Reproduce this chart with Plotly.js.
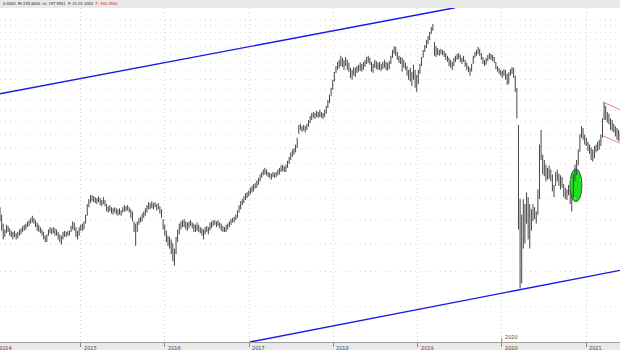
<!DOCTYPE html>
<html>
<head>
<meta charset="utf-8">
<script src="https://cdn.plot.ly/plotly-3.0.1.min.js"></script>
<style>
html,body{margin:0;padding:0;background:#e9e9e9;}
#chart{width:620px;height:350px;}
</style>
</head>
<body>
<div id="chart"></div>
<script>
// Weekly bars starting week
const firstWeek = '2014-01-17';
// Weekly lows
const weekLow = [
138,130,123,125,128,129,126,125,123,125,
123,124,126,127,129,130,131,133,134,136,
137,136,133,130,129,128,126,123,121,121,
126,128,127,128,126,126,123,121,119,123,
125,125,126,126,129,131,130,125,123,126,
130,130,131,136,143,151,155,157,156,155,
154,156,153,152,154,152,147,146,147,145,
144,146,144,143,144,143,146,147,147,148,
146,141,138,129,118,129,135,137,138,141,
143,146,149,149,150,149,151,148,149,145,
141,131,126,121,118,116,112,107,104,112,
121,127,131,133,133,131,130,132,134,132,
129,129,130,129,128,126,123,127,129,127,
130,132,134,135,133,134,132,130,129,129,
129,131,133,135,137,137,139,141,146,149,
153,155,158,160,162,164,166,167,170,171,
174,178,182,185,186,185,183,182,180,183,
182,183,185,186,189,190,189,189,194,199,
204,208,211,214,220,241,247,244,246,243,
247,252,258,263,267,265,268,267,268,267,
265,268,274,284,293,307,319,336,355,362,
366,371,369,362,371,362,358,344,340,349,
346,355,358,360,358,362,369,376,379,374,
358,355,367,364,362,362,360,364,367,362,
360,364,376,391,401,396,386,379,376,358,
367,362,349,340,336,327,340,323,315,331,
353,371,391,406,416,427,438,455,464,396,
393,398,396,401,398,393,386,381,371,367,
362,371,381,386,388,381,376,381,369,362,
357,349,358,376,391,396,401,396,386,376,
371,374,383,388,386,383,379,364,358,353,
349,344,349,340,329,331,349,353,344,315,
266,131,90,93,116,120,136,123,116,130,
138,140,136,144,159,204,186,184,178,180,
181,178,167,161,173,178,173,169,171,161,
159,158,163,154,147,161,178,185,197,215,
235,232,225,223,216,212,204,202,206,214,
216,218,223,235,263,263,259,256,247,245,
243,237,232,230,230
];
// Weekly highs
const weekHigh = [
151,144,136,131,135,134,132,130,129,130,
128,129,131,132,134,135,136,138,139,141,
143,141,139,137,135,133,131,129,126,127,
131,133,132,133,132,131,129,127,126,129,
130,129,130,130,134,138,137,133,130,133,
135,136,138,144,154,159,163,163,162,161,
160,162,160,158,161,158,154,152,153,151,
150,151,150,149,150,148,151,153,152,153,
151,149,147,138,136,138,141,142,145,147,
150,153,156,155,157,155,156,154,155,152,
149,140,135,130,126,125,123,120,116,125,
131,136,138,139,140,138,137,138,139,137,
136,135,137,135,133,132,131,133,134,133,
137,138,139,139,138,139,137,136,134,133,
135,136,138,140,141,142,144,148,153,157,
159,162,165,166,168,171,173,175,176,179,
182,186,189,192,194,192,189,188,187,189,
188,189,192,194,197,198,196,198,203,208,
214,218,220,225,235,255,257,253,255,253,
257,263,270,275,277,275,279,277,281,277,
275,281,288,299,309,323,340,357,371,381,
386,396,391,386,393,386,379,367,362,369,
367,371,374,379,376,381,386,393,396,391,
381,376,386,383,379,381,376,381,386,381,
379,383,396,411,421,419,406,396,393,391,
386,379,371,362,367,357,374,362,351,362,
376,393,411,424,438,449,461,476,485,432,
421,416,411,414,411,408,403,396,391,386,
381,391,396,401,403,398,391,396,386,379,
371,367,376,396,406,411,419,414,403,393,
386,391,398,403,401,398,393,381,371,367,
362,360,364,362,353,357,364,369,367,349,
323,255,159,144,159,154,166,161,154,149,
154,151,147,169,225,247,211,204,198,194,
197,192,186,174,189,192,187,185,183,175,
171,169,174,169,164,186,198,204,218,240,
253,250,240,235,229,225,221,218,223,225,
229,232,240,266,295,288,277,274,266,263,
257,253,250,247,244
];
// Trend lines
const upperTrendDates = ['2014-01-17', '2019-06-12'];
const upperTrendValues = [311, 538];
const lowerTrendDates = ['2017-01-04', '2021-05-27'];
const lowerTrendValues = [64, 101];
const channelDates = ['2021-03-14', '2021-05-27'];
const channelTopValues = [295, 281];
const channelBottomValues = [238, 227];
// Axis
const yearTicks = ['2014-01-01','2015-01-01','2016-01-01','2017-01-01','2018-01-01','2019-01-01','2020-01-01','2021-01-01'];
const yearLabels = ['2014','2015','2016','2017','2018','2019','2020','2021'];
const gridLevels = [80,100,120,140,160,180,200,220,240,260,280,300,320,340,360,380,400,420,440,460,480,500];
const xRange = ['2014-01-17', '2021-05-27'];
const yRange = [64, 537];
const headerText = '0,0000  Mi 205,6000  m: 197,5501  P: 21-01-2022  ';
const headerLast = 'P: 440,3500';

// Build weekly dates
const t0 = Date.UTC(2014, 0, 17);
const weekDates = weekLow.map((_, i) => new Date(t0 + i * 7 * 86400000).toISOString().slice(0, 10));

// bar segments
const bx = [], by = [];
weekDates.forEach((d, i) => { bx.push(d, d, null); by.push(weekLow[i], weekHigh[i], null); });

const traces = [
  {type:'scatter', mode:'lines', x:bx, y:by, line:{color:'#454545', width:1}, hoverinfo:'skip', showlegend:false},
  {type:'scatter', mode:'lines', x:upperTrendDates, y:upperTrendValues, line:{color:'#1a1ae8', width:1.4}, showlegend:false, cliponaxis:false},
  {type:'scatter', mode:'lines', x:lowerTrendDates, y:lowerTrendValues, line:{color:'#1a1ae8', width:1.4}, showlegend:false},
  {type:'scatter', mode:'lines', x:channelDates, y:channelTopValues, line:{color:'#ff6a6a', width:0.9}, showlegend:false},
  {type:'scatter', mode:'lines', x:channelDates, y:channelBottomValues, line:{color:'#ff6a6a', width:0.9}, showlegend:false}
];

const ms = v => Date.parse(v + 'T00:00:00Z');
const xr0 = ms(xRange[0]), xr1 = ms(xRange[1]);
const toPaper = d => (ms(d) - xr0) / (xr1 - xr0);

const tickFont = {family:'DejaVu Sans Condensed, DejaVu Sans', size:5.5, color:'#444'};
const annotations = yearTicks.map((d, i) => ({
  xref:'paper', yref:'paper', x: toPaper(d), y: 0, xanchor:'left', yanchor:'top',
  xshift: 1, yshift: -1, text: yearLabels[i], showarrow:false, font: tickFont
}));
annotations.push({
  xref:'paper', yref:'paper', x: toPaper('2020-01-01'), y: 0, xanchor:'left', yanchor:'bottom',
  xshift: 1, yshift: 0, text: '2020', showarrow:false, font: tickFont
});
annotations.push({
  xref:'paper', yref:'paper', x: 0, y: 1, xanchor:'left', yanchor:'bottom', xshift: 1, yshift: 0,
  text: headerText + '<span style="color:#e02020">' + headerLast + '</span>', showarrow:false,
  font:{family:'DejaVu Sans Condensed, DejaVu Sans, sans-serif', size:4, color:'#222'}
});

const shapes = [
  {type:'circle', xref:'x', yref:'paper', x0:'2020-10-22', x1:'2020-12-13', y0:0.4200, y1:0.5180,
   fillcolor:'#1ee01e', line:{color:'#2a6a2a', width:1}, layer:'below'},
  {type:'line', xref:'x', yref:'paper', x0:'2020-01-01', x1:'2020-01-01', y0:0, y1:0.012,
   line:{color:'#888', width:1}}
];

const layout = {
  width:620, height:350,
  margin:{l:0, r:0, t:8, b:8, pad:0},
  paper_bgcolor:'#e9e9e9', plot_bgcolor:'#ffffff',
  showlegend:false,
  xaxis:{type:'date', range:xRange, tickvals:yearTicks, ticktext:yearLabels, showticklabels:false,
    ticks:'outside', ticklen:4, tickcolor:'#888', showgrid:true, gridcolor:'#d2d2d2', griddash:'1px,3px',
    gridwidth:1, showline:true, linecolor:'#a0a0a0', linewidth:1, zeroline:false, fixedrange:true},
  yaxis:{type:'log', range:[Math.log10(yRange[0]), Math.log10(yRange[1])], tickvals:gridLevels,
    showticklabels:false, ticks:'', showgrid:true, gridcolor:'#dcdcdc', griddash:'1px,4px', gridwidth:1,
    zeroline:false, showline:false, fixedrange:true},
  annotations: annotations,
  shapes: shapes
};

Plotly.newPlot('chart', traces, layout, {displayModeBar:false, staticPlot:true});
</script>
</body>
</html>
